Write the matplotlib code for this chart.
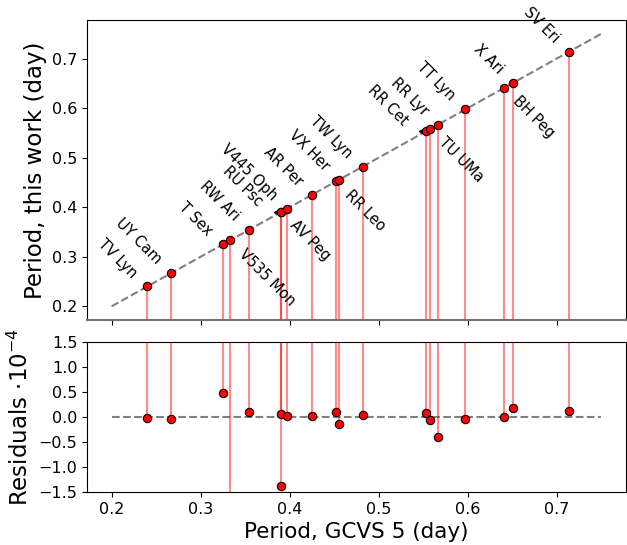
import matplotlib
matplotlib.use("Agg")
import matplotlib.pyplot as plt
from matplotlib.transforms import offset_copy

# GCVS 5 periods (day) and residuals of this work (units of 1e-4 day)
names = ["TV Lyn", "UY Cam", "T Sex", "V535 Mon", "RW Ari", "RU Psc", "AV Peg",
         "V445 Oph", "AR Per", "RR Leo", "VX Her", "TW Lyn", "RR Cet", "TU UMa",
         "RR Lyr", "TT Lyn", "BH Peg", "X Ari", "SV Eri"]
p_gcvs = [0.2400, 0.2670, 0.3247, 0.3333, 0.3543, 0.3904, 0.3904,
          0.3970, 0.4256, 0.4524, 0.4554, 0.4819, 0.5530, 0.5577,
          0.5668, 0.5974, 0.6410, 0.6511, 0.7138]
resid = [-0.01, -0.03, 0.49, -3.5, 0.11, 0.07, -1.37,
         0.02, 0.02, 0.10, -0.13, 0.04, 0.09, -0.05,
         -0.39, -0.03, 0.00, 0.18, 0.13]
# where each label goes: 'ul' up-left, 'dr' down-right, 'far' up-left with arrow
place = ["ul", "ul", "ul", "dr", "ul", "far", "dr",
         "ul", "ul", "dr", "ul", "ul", "far", "dr",
         "ul", "ul", "dr", "ul", "ul"]

p_this = [p + r * 1e-4 for p, r in zip(p_gcvs, resid)]
line_x = [0.2, 0.75]

fig = plt.figure(figsize=(6.27, 5.45), dpi=100)
ax1 = fig.add_axes([0.139, 0.413, 0.859, 0.550])
ax2 = fig.add_axes([0.139, 0.097, 0.859, 0.275])

lo, hi = line_x
pad = 0.05 * (hi - lo)

# top panel
ax1.plot(line_x, line_x, "--", color="gray", lw=1.5, zorder=1)
ax1.vlines(p_gcvs, 0, p_this, color="red", alpha=0.45, lw=1.5, zorder=2)
arr_tr = offset_copy(ax1.transData, fig=fig, x=-3.5, y=0, units="points")
for x, y, pl in zip(p_gcvs, p_this, place):
    if pl == "far":
        ax1.plot(x, y, "<", color="k", ms=3, transform=arr_tr, zorder=3)
ax1.plot(p_gcvs, p_this, "o", mfc="red", mec="k", mew=0.8, ms=6, zorder=4)

offs = {"ul": ((-9, 8), "right"), "dr": ((8, -8), "left"), "far": ((-15, 6), "right")}
for n, x, y, pl in zip(names, p_gcvs, p_this, place):
    (dx, dy), ha = offs[pl]
    ax1.annotate(n, (x, y), xytext=(dx, dy), textcoords="offset points",
                 rotation=-45, rotation_mode="anchor", ha=ha, va="center",
                 fontsize=10.5)

ax1.set_xlim(lo - pad, hi + pad)
ax1.set_ylim(lo - pad, hi + pad)
ax1.set_yticks([0.2, 0.3, 0.4, 0.5, 0.6, 0.7])
ax1.set_xticks([0.2, 0.3, 0.4, 0.5, 0.6, 0.7])
ax1.tick_params(labelbottom=False, labelsize=11.5)
ax1.spines["bottom"].set_color("0.45")
ax1.spines["bottom"].set_linewidth(1.5)
ax1.set_ylabel("Period, this work (day)", fontsize=16.5)

# bottom panel
ax2.plot(line_x, [0, 0], "--", color="gray", lw=1.5, zorder=1)
ax2.vlines(p_gcvs, resid, 2.0, color="red", alpha=0.45, lw=1.5, zorder=2)
ax2.plot(p_gcvs, resid, "o", mfc="red", mec="k", mew=0.8, ms=6, zorder=4)
ax2.set_xlim(lo - pad, hi + pad)
ax2.set_ylim(-1.5, 1.5)
ax2.set_yticks([-1.5, -1.0, -0.5, 0.0, 0.5, 1.0, 1.5])
ax2.set_xticks([0.2, 0.3, 0.4, 0.5, 0.6, 0.7])
ax2.tick_params(labelsize=11.5)
ax2.set_xlabel("Period, GCVS 5 (day)", fontsize=15.5)
ax2.set_ylabel(r"Residuals $\cdot 10^{-4}$", fontsize=16.5)

fig.align_ylabels([ax1, ax2])
fig.savefig("out.png", dpi=100)
